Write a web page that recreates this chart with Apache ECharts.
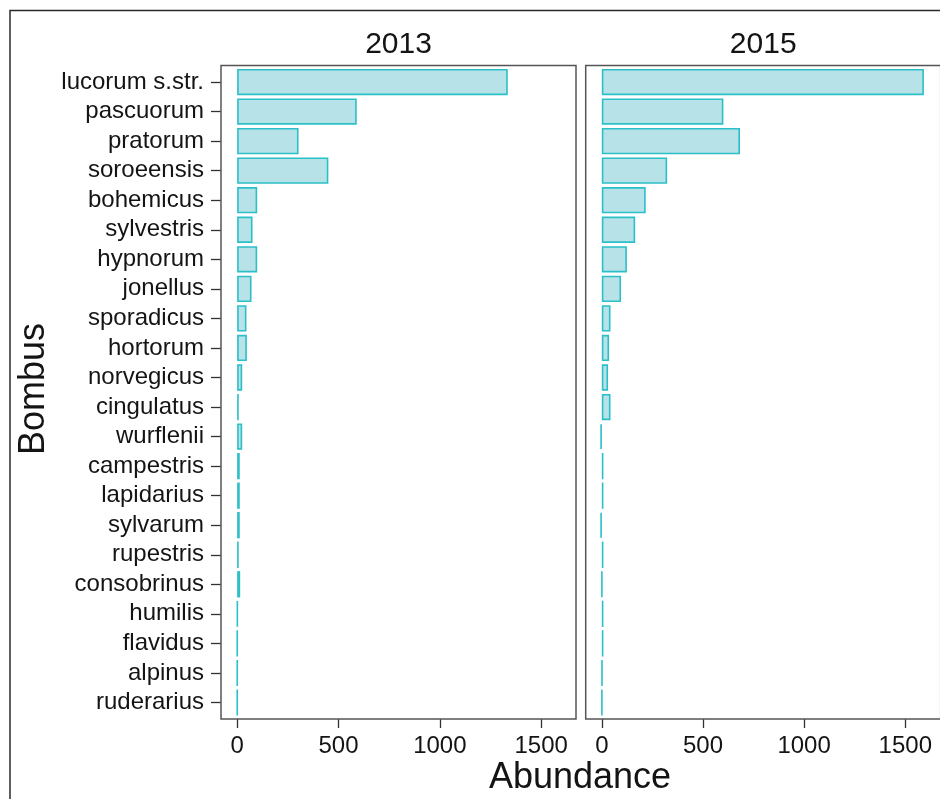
<!DOCTYPE html>
<html>
<head>
<meta charset="utf-8">
<script src="https://cdn.jsdelivr.net/npm/echarts@6/dist/echarts.min.js"></script>
<style>
  html, body { margin: 0; padding: 0; background: #fff; }
  #chart { width: 940px; height: 799px; }
</style>
</head>
<body>
<div id="chart"></div>
<script>
// Bumblebee species, listed top to bottom
const species = ['lucorum s.str.', 'pascuorum', 'pratorum', 'soroeensis', 'bohemicus',
  'sylvestris', 'hypnorum', 'jonellus', 'sporadicus', 'hortorum', 'norvegicus',
  'cingulatus', 'wurflenii', 'campestris', 'lapidarius', 'sylvarum', 'rupestris',
  'consobrinus', 'humilis', 'flavidus', 'alpinus', 'ruderarius'];

// Abundance per species and year
const abundance2013 = [1335, 590, 303, 450, 99, 76, 99, 71, 46, 48, 25, 8, 25, 13, 13, 13, 8, 15, 2, 1, 1, 1];
const abundance2015 = [1592, 601, 683, 323, 217, 165, 124, 95, 43, 36, 31, 43, -7, 8, 8, -7, 8, 1, 8, 8, 2, 1];

const years = ['2013', '2015'];
const xTicks = [0, 500, 1000, 1500];

const FONT = "'Liberation Sans', Arial, Helvetica, sans-serif";
const TEXT = '#141414';
const FILL = '#b7e2e8';
const EDGE = '#2bbfc8';

// Panel frames (the category bands sit slightly inside them)
const panels = [
  { left: 221, top: 65.5, width: 355, height: 653.5 },
  { left: 585.7, top: 65.5, width: 355, height: 653.5 }
];
const bandInset = 1.75;

const chart = echarts.init(document.getElementById('chart'), null, { renderer: 'canvas' });

const grids = panels.map(p => ({
  left: p.left,
  width: p.width,
  top: p.top + bandInset,
  height: p.height - 2 * bandInset,
  containLabel: false
}));

const xAxes = panels.map((p, i) => ({
  type: 'value',
  gridIndex: i,
  min: -79.6,
  max: 1671.6,
  offset: bandInset,
  axisLine: { show: false, onZero: false },
  splitLine: { show: false },
  axisTick: { show: true, customValues: xTicks, length: 9, lineStyle: { color: '#333', width: 1.3 } },
  axisLabel: {
    customValues: xTicks, fontSize: 24, fontFamily: FONT, color: TEXT, margin: 15,
    formatter: v => String(v)
  }
}));

const yAxes = panels.map((p, i) => ({
  type: 'category',
  gridIndex: i,
  data: species,
  inverse: true,
  axisLine: { show: false, onZero: false },
  splitLine: { show: false },
  axisTick: { show: i === 0, interval: 0, length: 10, alignWithLabel: true, lineStyle: { color: '#333', width: 1.3 } },
  axisLabel: { show: i === 0, interval: 0, fontSize: 24, fontFamily: FONT, color: TEXT, margin: 17 }
}));

const series = [abundance2013, abundance2015].map((vals, i) => ({
  type: 'bar',
  name: years[i],
  xAxisIndex: i,
  yAxisIndex: i,
  data: vals,
  barCategoryGap: '11%',
  itemStyle: { color: FILL, borderColor: EDGE, borderWidth: 1.6 },
  emphasis: { disabled: true }
}));

const graphic = [
  // outer figure border
  { type: 'rect', shape: { x: 10, y: 10.5, width: 1000, height: 1000 },
    style: { fill: null, stroke: '#2a2a2a', lineWidth: 1.5 }, z: 20 },
  // panel borders
  ...panels.map(p => ({
    type: 'rect', shape: { x: p.left, y: p.top, width: p.width, height: p.height },
    style: { fill: null, stroke: '#555', lineWidth: 1.5 }, z: 20
  })),
  // strip labels
  ...panels.map((p, i) => ({
    type: 'text', x: p.left + p.width / 2, y: 45,
    style: { text: years[i], fontSize: 30, fontFamily: FONT, fill: TEXT, align: 'center', verticalAlign: 'middle' }
  })),
  // axis titles
  { type: 'text', x: 580, y: 778,
    style: { text: 'Abundance', fontSize: 36, fontFamily: FONT, fill: TEXT, align: 'center', verticalAlign: 'middle' } },
  { type: 'text', x: 34, y: 389, rotation: Math.PI / 2,
    style: { text: 'Bombus', fontSize: 36, fontFamily: FONT, fill: TEXT, align: 'center', verticalAlign: 'middle' } }
];

chart.setOption({
  animation: false,
  backgroundColor: '#fff',
  grid: grids,
  xAxis: xAxes,
  yAxis: yAxes,
  series: series,
  graphic: graphic
});
</script>
</body>
</html>
